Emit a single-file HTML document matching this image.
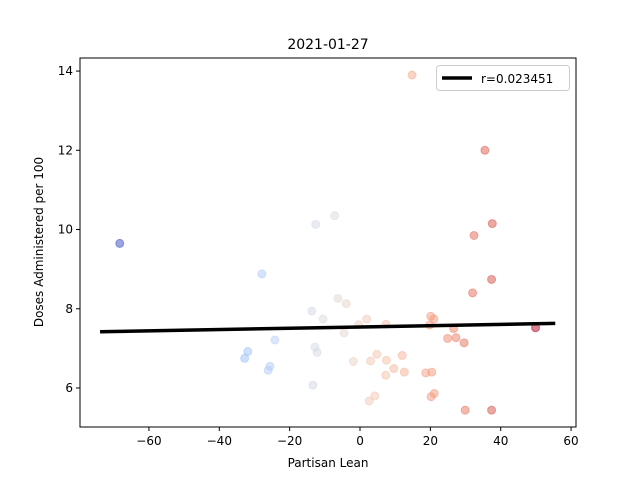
<!DOCTYPE html>
<html><head><meta charset="utf-8"><style>
body{margin:0;background:#fff;font-family:"Liberation Sans","DejaVu Sans",sans-serif}
svg text{font-family:"DejaVu Sans","Liberation Sans",sans-serif}
</style></head><body>
<svg id="c" width="640" height="480" xmlns="http://www.w3.org/2000/svg"></svg>
<script>
const leanValues=[-68.3,-27.9,-31.9,-32.8,-25.6,-26.1,-24.2,-13.7,-10.5,-12.8,-12.2,-13.4,-12.6,-7.2,-6.3,-3.9,-4.5,-1.9,-0.4,1.9,3.0,4.8,7.4,7.5,9.6,7.3,12.0,12.6,2.6,4.2,18.7,20.4,21.1,20.2,20.1,21.0,19.8,24.9,27.3,29.6,26.6,29.9,37.4,49.9,32.0,37.4,32.4,37.6,35.5,14.8];
const doseValues=[9.65,8.88,6.92,6.75,6.55,6.45,7.21,7.94,7.74,7.03,6.90,6.07,10.13,10.35,8.26,8.13,7.39,6.67,7.60,7.74,6.68,6.85,7.61,6.70,6.49,6.32,6.82,6.40,5.67,5.80,6.38,6.40,5.86,5.78,7.81,7.74,7.59,7.25,7.27,7.14,7.50,5.44,5.44,7.52,8.40,8.74,9.85,10.15,12.0,13.9];
const fitX=[-73.9,55.5];
const fitY=[7.42,7.63];
const xTicks=[-60,-40,-20,0,20,40,60];
const yTicks=[6,8,10,12,14];
const L=80,R=576,T=58,B=427,xmin=-79.6,xmax=61.4,ymin=5.015,ymax=14.33;
const sx=v=>L+(v-xmin)/(xmax-xmin)*(R-L);
const sy=v=>B-(v-ymin)/(ymax-ymin)*(B-T);
const NS="http://www.w3.org/2000/svg",svg=document.getElementById('c');
function mk(t,a,p){const e=document.createElementNS(NS,t);for(const k in a)e.setAttribute(k,a[k]);(p||svg).appendChild(e);return e;}
const stops=[[58,76,192],[98,130,234],[141,176,254],[184,208,249],[221,221,221],[245,196,173],[244,154,123],[222,96,77],[180,4,38]];
function cw(t){t=Math.max(0,Math.min(1,t))*8;const i=Math.min(7,Math.floor(t)),f=t-i;const a=stops[i],b=stops[i+1];return 'rgb('+a.map((v,k)=>Math.round(v+(b[k]-v)*f)).join(',')+')';}
const lmin=Math.min(...leanValues),lmax=Math.max(...leanValues);
const g=mk('g',{});


leanValues.forEach((x,i)=>{const col=cw((x-lmin)/(lmax-lmin));
const c=mk('circle',{cx:sx(x),cy:sy(doseValues[i]),r:4,fill:col,stroke:col,'fill-opacity':0.5,'stroke-opacity':0.5},g);

});
const ln=mk('line',{x1:sx(fitX[0]),y1:sy(fitY[0]),x2:sx(fitX[1]),y2:sy(fitY[1]),stroke:'#000','stroke-width':3.5});


const fr=mk('rect',{x:L,y:T,width:R-L,height:B-T,fill:'none',stroke:'#000','stroke-width':1});


xTicks.forEach(v=>{const x=sx(v);mk('line',{x1:x,x2:x,y1:B,y2:B+4,stroke:'#000'});
const t=mk('text',{x:x,y:B+18,'font-size':12,'text-anchor':'middle'});t.textContent=v<0?'\u2212'+(-v):v;

});
yTicks.forEach(v=>{const y=sy(v);mk('line',{x1:L-4,x2:L,y1:y,y2:y,stroke:'#000'});
const t=mk('text',{x:L-7,y:y+4,'font-size':12,'text-anchor':'end'});t.textContent=v;

});
</script>
<svg style="position:absolute;left:0;top:0" width="640" height="480" xmlns="http://www.w3.org/2000/svg">
<text x="328" y="49" font-size="14" text-anchor="middle">2021-01-27</text>
<text x="328" y="467" font-size="12" text-anchor="middle">Partisan Lean</text>
<text transform="translate(43,242) rotate(-90)" font-size="12" text-anchor="middle">Doses Administered per 100</text>
<g>
<rect x="436.5" y="65.5" width="133" height="25" rx="3" fill="#fff" stroke="#ccc"/>
<line x1="442" y1="78" x2="472" y2="78" stroke="#000" stroke-width="3.5"/>
<text x="481" y="83" font-size="12">r=0.023451</text>
</g>
</svg>
</body></html>
